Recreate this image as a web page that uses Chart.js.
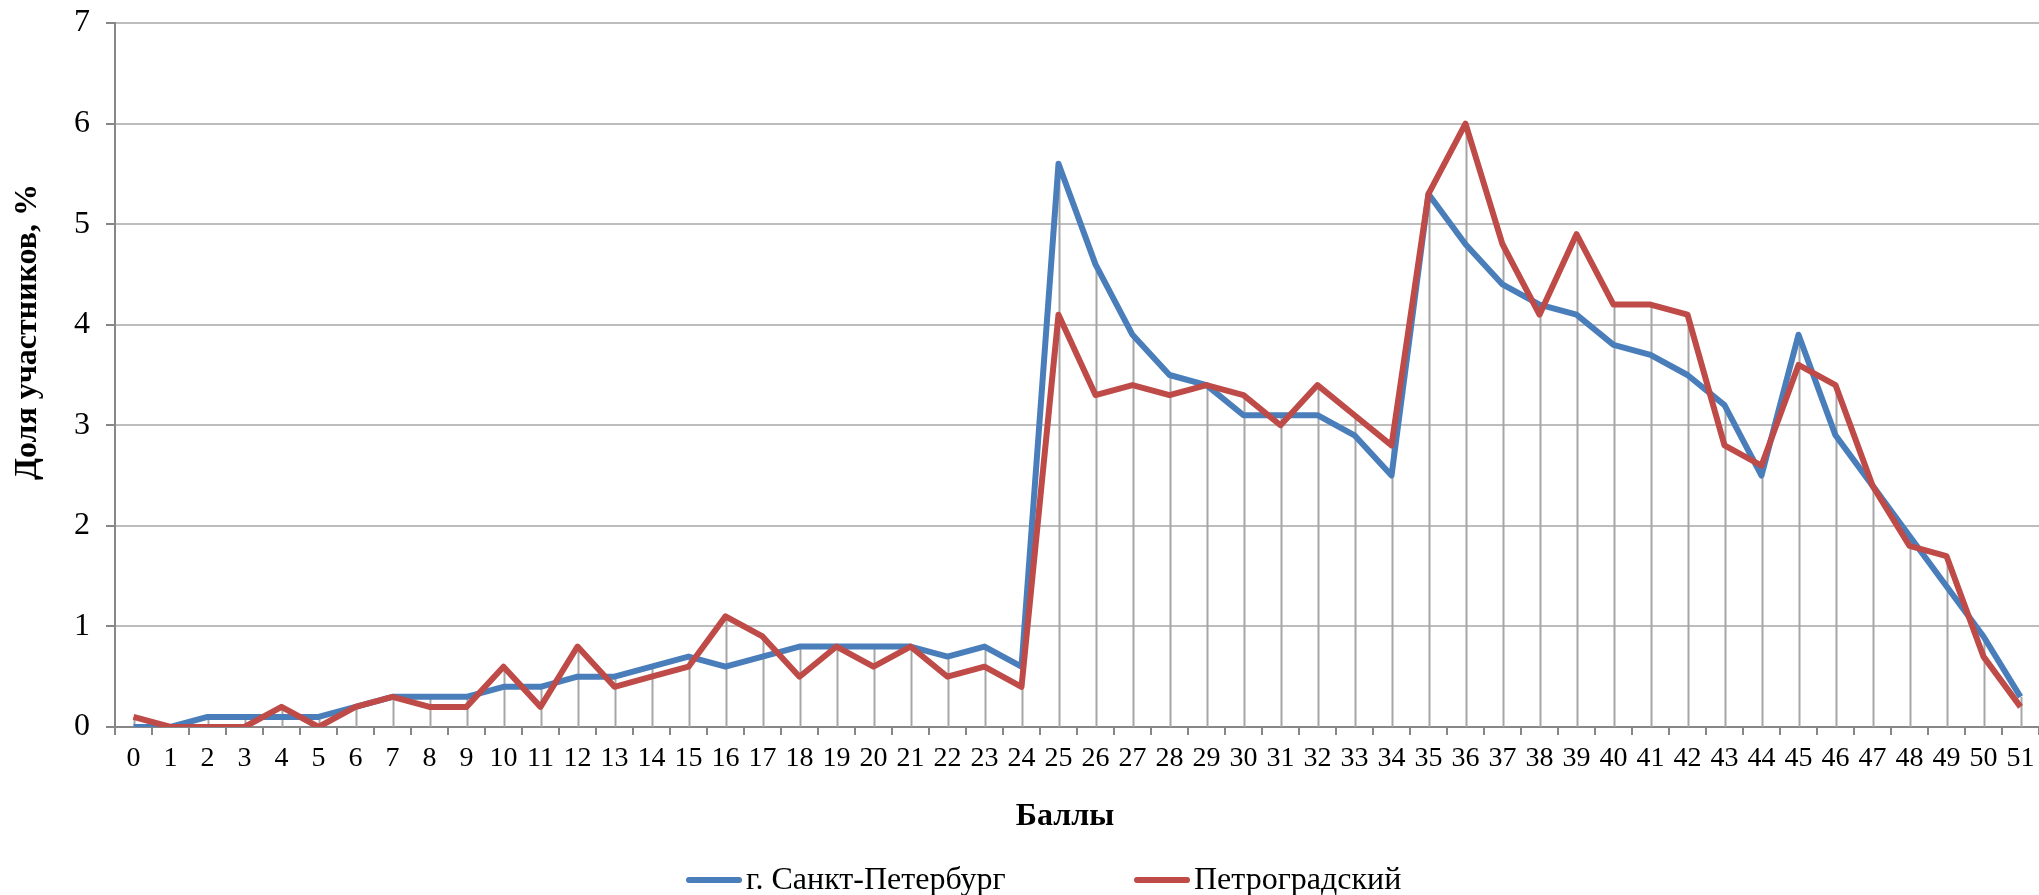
<!DOCTYPE html>
<html>
<head>
<meta charset="utf-8">
<script src="https://cdn.jsdelivr.net/npm/chart.js@4"></script>
<style>
  html, body { margin: 0; padding: 0; background: #fff; }
  #wrap { width: 2039px; height: 895px; }
</style>
</head>
<body>
<div id="wrap"><canvas id="myChart" width="2039" height="895"></canvas></div>
<script>
// data
const scores = ['0','1','2','3','4','5','6','7','8','9','10','11','12','13','14','15','16','17','18','19','20',
  '21','22','23','24','25','26','27','28','29','30','31','32','33','34','35','36','37','38','39','40',
  '41','42','43','44','45','46','47','48','49','50','51'];
const spbValues = [0, 0, 0.1, 0.1, 0.1, 0.1, 0.2, 0.3, 0.3, 0.3, 0.4, 0.4, 0.5, 0.5, 0.6, 0.7, 0.6, 0.7, 0.8, 0.8, 0.8,
  0.8, 0.7, 0.8, 0.6, 5.6, 4.6, 3.9, 3.5, 3.4, 3.1, 3.1, 3.1, 2.9, 2.5, 5.3, 4.8, 4.4, 4.2, 4.1, 3.8,
  3.7, 3.5, 3.2, 2.5, 3.9, 2.9, 2.4, 1.9, 1.4, 0.9, 0.3];
const petroValues = [0.1, 0, 0, 0, 0.2, 0, 0.2, 0.3, 0.2, 0.2, 0.6, 0.2, 0.8, 0.4, 0.5, 0.6, 1.1, 0.9, 0.5, 0.8, 0.6,
  0.8, 0.5, 0.6, 0.4, 4.1, 3.3, 3.4, 3.3, 3.4, 3.3, 3.0, 3.4, 3.1, 2.8, 5.3, 6.0, 4.8, 4.1, 4.9, 4.2,
  4.2, 4.1, 2.8, 2.6, 3.6, 3.4, 2.4, 1.8, 1.7, 0.7, 0.2];
const seriesNames = ['г. Санкт-Петербург', 'Петроградский'];
const yTicks = [0, 1, 2, 3, 4, 5, 6, 7];
const xTitle = 'Баллы';
const yTitle = 'Доля участников, %';

const BLUE = '#4a7ebb';
const RED = '#be4b48';
const SERIF = '"Liberation Serif", "Times New Roman", serif';

// drop lines from the higher point down to the axis
const dropLines = {
  id: 'dropLines',
  beforeDatasetsDraw(chart) {
    const { ctx, scales: { x, y } } = chart;
    ctx.save();
    ctx.strokeStyle = '#a6a6a6';
    ctx.lineWidth = 2;
    scores.forEach((s, i) => {
      const top = Math.max(spbValues[i], petroValues[i]);
      const px = Math.round(x.getPixelForValue(i)) + 0.5;
      ctx.beginPath();
      ctx.moveTo(px, y.getPixelForValue(top));
      ctx.lineTo(px, y.getPixelForValue(0));
      ctx.stroke();
    });
    ctx.restore();
  }
};

// axis titles + legend, placed like the original excel chart
const labelsAndLegend = {
  id: 'labelsAndLegend',
  afterDraw(chart) {
    const { ctx } = chart;
    ctx.save();
    ctx.fillStyle = '#000';
    ctx.textAlign = 'center';
    ctx.textBaseline = 'middle';

    ctx.font = 'bold 32px ' + SERIF;
    ctx.fillText(xTitle, 1065, 817);

    ctx.save();
    ctx.translate(28, 332);
    ctx.rotate(-Math.PI / 2);
    ctx.font = 'bold 32px ' + SERIF;
    ctx.fillText(yTitle, 0, 0);
    ctx.restore();

    const items = [
      { text: seriesNames[0], color: BLUE, x: 689 },
      { text: seriesNames[1], color: RED, x: 1137 }
    ];
    const cy = 880;
    ctx.font = '32px ' + SERIF;
    ctx.textAlign = 'left';
    items.forEach(it => {
      ctx.strokeStyle = it.color;
      ctx.lineWidth = 6;
      ctx.lineCap = 'round';
      ctx.beginPath();
      ctx.moveTo(it.x, cy);
      ctx.lineTo(it.x + 50, cy);
      ctx.stroke();
      ctx.fillText(it.text, it.x + 57, cy + 1);
    });
    ctx.restore();
  }
};

const config = {
  type: 'line',
  data: {
    labels: scores,
    datasets: [
      {
        label: seriesNames[0],
        data: spbValues,
        borderColor: BLUE,
        backgroundColor: BLUE,
        borderWidth: 6,
        pointRadius: 0,
        tension: 0,
        borderJoinStyle: 'round',
        order: 1
      },
      {
        label: seriesNames[1],
        data: petroValues,
        borderColor: RED,
        backgroundColor: RED,
        borderWidth: 6,
        pointRadius: 0,
        tension: 0,
        borderJoinStyle: 'round',
        order: 0
      }
    ]
  },
  options: {
    responsive: false,
    animation: false,
    layout: { padding: { top: 23, right: 0, bottom: 40, left: 0 } },
    plugins: {
      legend: { display: false },
      tooltip: { enabled: false }
    },
    scales: {
      x: {
        offset: true,
        grid: {
          offset: true,
          drawOnChartArea: false,
          drawTicks: true,
          tickLength: 8,
          color: '#878787',
          lineWidth: 2
        },
        border: { color: '#878787', width: 2 },
        ticks: {
          color: '#000',
          font: { family: SERIF, size: 28 },
          padding: 7,
          maxRotation: 0,
          autoSkip: false
        },
        afterFit(scale) {
          scale.height = 128;
          scale.paddingLeft = 0;
          scale.paddingRight = 0;
        }
      },
      y: {
        min: 0,
        max: 7,
        afterBuildTicks(scale) { scale.ticks = yTicks.map(v => ({ value: v })); },
        grid: {
          color: '#bdbdbd',
          lineWidth: 2,
          drawTicks: true,
          tickLength: 9,
          tickColor: '#878787'
        },
        border: { color: '#878787', width: 2 },
        ticks: {
          color: '#000',
          font: { family: SERIF, size: 32 },
          padding: 16
        },
        afterFit(scale) {
          scale.width = 115;
          scale.paddingTop = 0;
          scale.paddingBottom = 0;
        }
      }
    }
  },
  plugins: [dropLines, labelsAndLegend]
};

const myChart = new Chart(document.getElementById('myChart'), config);
</script>
</body>
</html>
